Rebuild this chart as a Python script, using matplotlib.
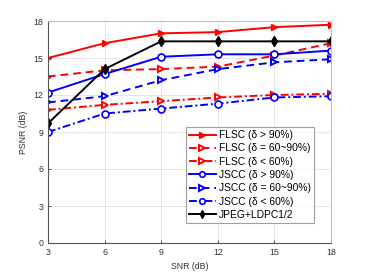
import matplotlib
matplotlib.use("Agg")
import matplotlib.pyplot as plt

snr = [3, 6, 9, 12, 15, 18]
flsc_hi = [15.0, 16.2, 17.0, 17.1, 17.5, 17.7]
flsc_mid = [13.5, 14.0, 14.1, 14.3, 15.2, 16.2]
flsc_lo = [10.8, 11.2, 11.5, 11.8, 12.0, 12.1]
jscc_hi = [12.2, 13.7, 15.1, 15.3, 15.3, 15.6]
jscc_mid = [11.4, 11.9, 13.2, 14.1, 14.65, 14.9]
jscc_lo = [9.0, 10.5, 10.9, 11.3, 11.8, 11.9]
jpeg = [9.7, 14.1, 16.35, 16.35, 16.35, 16.35]

labels = ["FLSC (δ > 90%)", "FLSC (δ = 60~90%)", "FLSC (δ < 60%)",
          "JSCC (δ > 90%)", "JSCC (δ = 60~90%)", "JSCC (δ < 60%)",
          "JPEG+LDPC1/2"]
xticks = [3, 6, 9, 12, 15, 18]
yticks = [0, 3, 6, 9, 12, 15, 18]

plt.rcParams['font.family'] = ['Liberation Sans', 'DejaVu Sans']
fig = plt.figure(figsize=(3.66, 2.74), dpi=100)
ax = fig.add_axes([48/366, 1-243/274, (331-48)/366, (243-21)/274])

lw = 1.4
ms = 5
ax.plot(snr, flsc_hi, color='red', ls='-', lw=lw, marker='>', ms=ms, mfc='red', mec='red', label=labels[0])
ax.plot(snr, flsc_mid, color='red', ls=(0, (4, 2.5)), lw=lw, marker='>', ms=ms, mfc='white', mec='red', mew=1.4, label=labels[1])
ax.plot(snr, flsc_lo, color='red', ls=(0, (4, 1.5, 1, 1.5)), lw=lw, marker='>', ms=ms, mfc='white', mec='red', mew=1.4, label=labels[2])
ax.plot(snr, jscc_hi, color='blue', ls='-', lw=lw, marker='o', ms=ms, mfc='white', mec='blue', mew=1.2, label=labels[3])
ax.plot(snr, jscc_mid, color='blue', ls=(0, (4, 2.5)), lw=lw, marker='>', ms=ms, mfc='white', mec='blue', mew=1.4, label=labels[4])
ax.plot(snr, jscc_lo, color='blue', ls=(0, (4, 1.5, 1, 1.5)), lw=lw, marker='o', ms=ms, mfc='white', mec='blue', mew=1.2, label=labels[5])
ax.plot(snr, jpeg, color='black', ls='-', lw=lw, marker='d', ms=ms, mfc='black', mec='black', label=labels[6])

ax.set_xlim(3, 18)
ax.set_ylim(0, 18)
ax.set_xticks(xticks)
ax.set_yticks(yticks)
ax.grid(True, color='#e6e6e6', lw=0.7)
ax.set_axisbelow(True)
for s in ax.spines.values():
    s.set_color('#bfbfbf')
    s.set_linewidth(0.8)
ax.spines['left'].set_color('#555555')
ax.spines['bottom'].set_color('#555555')
ax.tick_params(direction='in', length=2.5, labelsize=6.3, colors='#333333', width=0.6)
ax.set_xlabel('SNR (dB)', fontsize=6.3, color='#333333', labelpad=4)
ax.set_ylabel('PSNR (dB)', fontsize=6.3, color='#333333', labelpad=4)

leg = ax.legend(loc='lower right', bbox_to_anchor=((314-48)/283, (243-223)/222),
                fontsize=7.4, frameon=True, fancybox=False, borderpad=0.3,
                labelspacing=0.32, handlelength=2.6, handletextpad=0.3, borderaxespad=0,
                markerscale=0.8)
leg.get_frame().set_edgecolor('#888888')
leg.get_frame().set_linewidth(0.8)

fig.savefig('out.png', dpi=100)
